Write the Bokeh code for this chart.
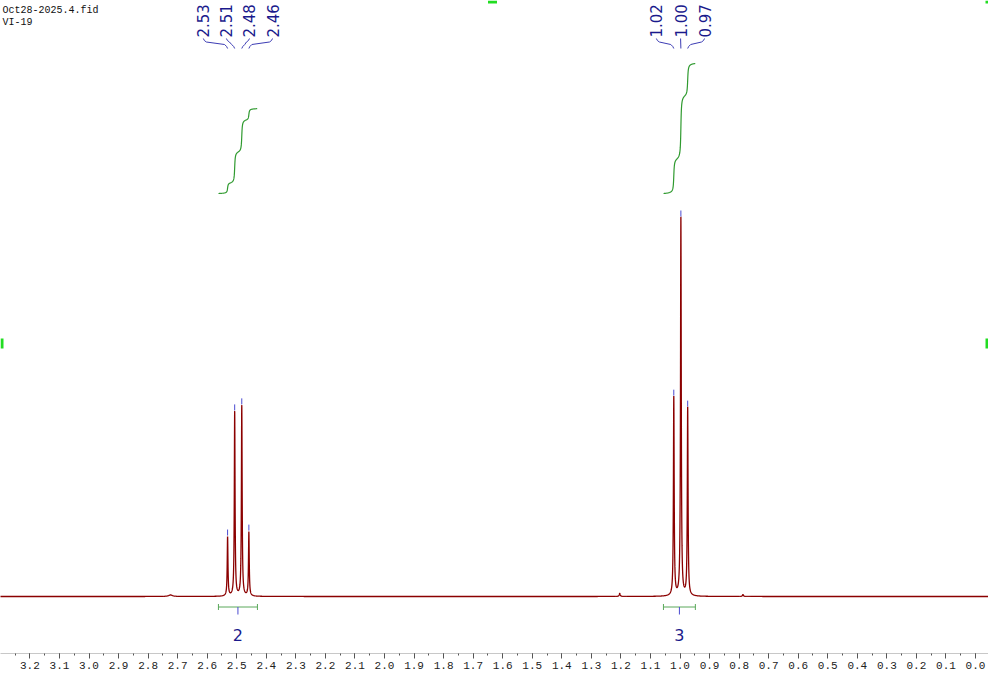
import math
import numpy as np
from bokeh.plotting import figure
from bokeh.models import Range1d, SingleIntervalTicker, PrintfTickFormatter
from bokeh.core.properties import value
from bokeh.embed import file_html
from bokeh.resources import INLINE

# ---------------- data ----------------
peak_ppm = [2.531, 2.507, 2.483, 2.459, 1.021, 0.997, 0.974]
peak_height = [0.156, 0.487, 0.503, 0.169, 0.526, 1.000, 0.497]
peak_hwhm = [0.0015, 0.0015, 0.0015, 0.0015, 0.0015, 0.0015, 0.0015]
peak_labels = ["2.53", "2.51", "2.48", "2.46", "1.02", "1.00", "0.97"]
label_ppm = [2.613, 2.535, 2.457, 2.379, 1.080, 0.998, 0.917]

minor_ppm = [2.724, 1.204, 0.787]
minor_height = [0.004, 0.008, 0.005]
minor_hwhm = [0.008, 0.002, 0.002]

integral_start = [2.562, 1.056]
integral_end = [2.430, 0.948]
integral_values = ["2", "3"]

header_lines = ["Oct28-2025.4.fid", "VI-19"]

# ---------------- layout helpers (reference pixel geometry) ----------------
PX_PER_PPM = 295.5
ZERO_PX = 975.0
BASE_PX = 596.0
UNIT_PX = 378.0


def ppm_at(px):
    return (ZERO_PX - px) / PX_PER_PPM


def dppm(dpx):
    return dpx / PX_PER_PPM


def yv(ref_y):
    return (BASE_PX - ref_y) / UNIT_PX


# ---------------- spectrum ----------------
grid = [np.linspace(-0.06, 3.32, 4000)]
for pk in peak_ppm + minor_ppm:
    grid.append(np.linspace(pk - 0.025, pk + 0.025, 500))
xs = np.unique(np.concatenate(grid))[::-1]

all_pos = peak_ppm + minor_ppm
all_h = peak_height + minor_height
all_w = peak_hwhm + minor_hwhm
ys = np.zeros_like(xs)
for pk, h, g in zip(all_pos, all_h, all_w):
    ys += h * g * g / (g * g + (xs - pk) ** 2)

# ---------------- figure ----------------
p = figure(width=988, height=675,
           x_range=Range1d(ppm_at(0), ppm_at(988)),
           y_range=Range1d(yv(653), yv(0)),
           output_backend="svg", toolbar_location=None,
           y_axis_location=None,
           min_border_left=0, min_border_right=0, min_border_top=0, min_border_bottom=22)
p.xgrid.visible = False
p.ygrid.visible = False
p.outline_line_color = None
p.background_fill_color = "white"
p.border_fill_color = "white"

ax = p.xaxis[0]
ax.ticker = SingleIntervalTicker(interval=0.1, num_minor_ticks=2)
ax.formatter = PrintfTickFormatter(format="%.1f")
ax.axis_line_color = "#c8c8c8"
ax.axis_line_width = 1
ax.major_tick_line_color = "#555555"
ax.minor_tick_line_color = "#555555"
ax.major_tick_out = 5
ax.major_tick_in = 0
ax.minor_tick_out = 2
ax.minor_tick_in = 0
ax.major_label_standoff = 3
ax.major_label_text_font = "Liberation Mono"
ax.major_label_text_font_size = "11px"
ax.major_label_text_color = "#222222"

# spectrum line
p.line(xs, ys, line_color="#8b0000", line_width=1.3)

# peak-pick marks
p.segment(x0=peak_ppm, y0=[h + 2 / UNIT_PX for h in peak_height],
          x1=peak_ppm, y1=[h + 8 / UNIT_PX for h in peak_height],
          line_color="#4a4ad0", line_width=1)

# peak labels and connectors
p.text(x=label_ppm, y=[yv(37)] * len(label_ppm), text=peak_labels,
       angle=math.pi / 2, text_align="left", text_baseline="middle",
       text_font=value("DejaVu Sans"), text_font_size="15px", text_color="#1a1a8c")

cx, cy = [], []
for lp, pp in zip(label_ppm, peak_ppm):
    dpx = (lp - pp) * PX_PER_PPM  # positive if label is left of peak
    if abs(dpx) < 2:
        cx.append([lp, pp])
        cy.append([yv(38), yv(48)])
    else:
        s = 1 if dpx > 0 else -1
        cx.append([lp, lp - s * dppm(1), lp - s * dppm(3), pp + s * dppm(3), pp + s * dppm(1), pp])
        cy.append([yv(38), yv(40), yv(41.5), yv(44), yv(46), yv(48)])
p.multi_line(cx, cy, line_color="#3c3cb4", line_width=1)

# integral curves
x_asc = xs[::-1]
y_asc = ys[::-1]
curves = []
for a, b in zip(integral_start, integral_end):
    m = (x_asc >= b) & (x_asc <= a)
    xx = x_asc[m][::-1]
    yy = y_asc[m][::-1]
    cum = np.concatenate([[0.0], np.cumsum(0.5 * (yy[1:] + yy[:-1]) * np.abs(np.diff(xx)))])
    curves.append((xx, cum))
scale = (130 / UNIT_PX) / curves[1][1][-1]
for xx, cum in curves:
    p.line(xx, yv(193) + cum * scale, line_color="#2f9a2f", line_width=1.2)

# integral brackets + values
mid = [(a + b) / 2 for a, b in zip(integral_start, integral_end)]
p.segment(x0=integral_start, y0=[yv(606.5)] * 2, x1=integral_end, y1=[yv(606.5)] * 2,
          line_color="#5aa85a", line_width=1)
p.segment(x0=integral_start + integral_end, y0=[yv(603.5)] * 4,
          x1=integral_start + integral_end, y1=[yv(609.5)] * 4,
          line_color="#5aa85a", line_width=1)
p.segment(x0=mid, y0=[yv(606.5)] * 2, x1=mid, y1=[yv(614)] * 2,
          line_color="#4a4ad0", line_width=1)
p.text(x=mid, y=[yv(634)] * 2, text=integral_values, text_align="center",
       text_baseline="middle", text_font=value("DejaVu Sans"), text_font_size="16px",
       text_color="#1a1a8c")

# header text (kept fully inside the picture)
p.text(x=[ppm_at(2)] * 2, y=[yv(10), yv(22)], text=header_lines, text_align="left",
       text_baseline="alphabetic", text_font=value("Liberation Mono"), text_font_size="10px",
       text_color="#111111")

# selection handles
p.rect(x=[ppm_at(492), ppm_at(986.5), ppm_at(1.5), ppm_at(986.5)],
       y=[yv(1.5), yv(1.5), yv(343), yv(343)],
       width=[dppm(9), dppm(3), dppm(3), dppm(3)],
       height=[3 / UNIT_PX, 3 / UNIT_PX, 10 / UNIT_PX, 10 / UNIT_PX],
       fill_color="#22dd22", line_color=None)

open("out.html", "w").write(file_html(p, INLINE))
